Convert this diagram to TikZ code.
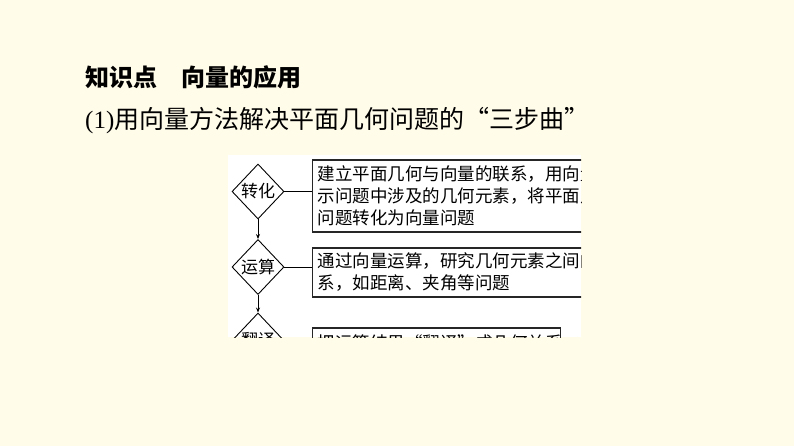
\documentclass[tikz,border=0pt]{standalone}
\usepackage{fontspec}
\setmainfont{Liberation Serif}
\newfontfamily\cjk{Noto Sans CJK SC}
\usetikzlibrary{shapes.geometric,arrows.meta}
\definecolor{cream}{RGB}{255,252,234}
\tikzset{
  dia/.style={shape=diamond, draw=black, line width=0.9pt, inner sep=0pt,
    minimum width=52pt, minimum height=55pt, font=\cjk\fontsize{17}{20}\selectfont},
  txtbox/.style={draw=black!85, line width=1.1pt, anchor=west, inner xsep=5pt, inner ysep=0pt,
    align=left, font=\cjk\fontsize{17.5}{22}\selectfont},
  link/.style={draw=black, line width=0.9pt},
  arr/.style={draw=black, line width=0.9pt, -{Stealth[length=5pt,width=4pt]}},
  title/.style={anchor=west, inner sep=0pt, font=\cjk\bfseries\fontsize{24}{28}\selectfont},
  sub/.style={anchor=west, inner sep=0pt, font=\fontsize{25}{30}\selectfont}
}
\begin{document}
\begin{tikzpicture}[x=1pt,y=-1pt]
\useasboundingbox (0,0) rectangle (794,446);
\fill[cream] (0,0) rectangle (794,446);
\node[title] (t1) at (85,77) {知识点　向量的应用};
\node[sub] (t2) at (85,121) {(1)\cjk 用向量方法解决平面几何问题的“三步曲”};
\fill[white] (228,155) rectangle (581,337);
\begin{scope}
\clip (228,155) rectangle (581,337);
\node[dia] (d1) at (258,191.5) {转化};
\node[dia] (d2) at (258,267) {运算};
\node[dia] (d3) at (258,340.5) {翻译};
\node[txtbox, minimum width=300pt, minimum height=72pt, text width=290pt] (b1) at (312,196)
  {建立平面几何与向量的联系，用向量\\示问题中涉及的几何元素，将平面几\\问题转化为向量问题};
\node[txtbox, minimum width=300pt, minimum height=49pt, text width=290pt] (b2) at (312,272.5)
  {通过向量运算，研究几何元素之间的\\系，如距离、夹角等问题};
\node[txtbox, minimum width=248pt, minimum height=30pt, text width=238pt] (b3) at (312,343)
  {把运算结果“翻译”成几何关系};
\draw[link] (d1.east) -- (d1.east -| b1.west);
\draw[link] (d2.east) -- (d2.east -| b2.west);
\draw[arr] (d1.south) -- (d2.north);
\draw[arr] (d2.south) -- (d3.north);
\end{scope}
\end{tikzpicture}
\end{document}
